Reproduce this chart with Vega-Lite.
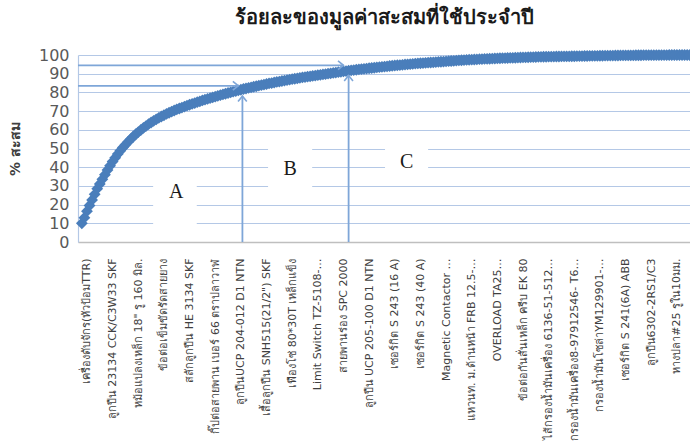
{
  "$schema": "https://vega.github.io/schema/vega-lite/v6.json",
  "width": 612,
  "height": 187,
  "autosize": {"type": "none"},
  "padding": {"left": 78, "top": 55, "right": 0, "bottom": 205},
  "background": "white",
  "title": {
    "text": "ร้อยละของมูลค่าสะสมที่ใช้ประจำปี",
    "anchor": "middle",
    "fontSize": 20,
    "fontWeight": "bold",
    "font": "DejaVu Sans",
    "color": "#1a1a1a",
    "offset": 19
  },
  "config": {
    "view": {"stroke": null},
    "font": "DejaVu Sans"
  },
  "datasets": {
    "curve": [
      {"x":1,"y":10},{"x":1.5,"y":13},{"x":2,"y":16.5},{"x":2.5,"y":19.5},{"x":3,"y":22.5},{"x":3.5,"y":25.5},{"x":4,"y":28.5},{"x":4.5,"y":31},{"x":5,"y":33.5},{"x":5.5,"y":36},
      {"x":6,"y":38.5},{"x":6.5,"y":40.8},{"x":7,"y":43},{"x":7.5,"y":45},{"x":8,"y":47},{"x":8.5,"y":48.8},{"x":9,"y":50.5},{"x":9.5,"y":52},{"x":10,"y":53.5},{"x":10.5,"y":55},
      {"x":11,"y":56.3},{"x":11.5,"y":57.6},{"x":12,"y":58.8},{"x":12.5,"y":59.9},{"x":13,"y":61},{"x":13.5,"y":62},{"x":14,"y":63},{"x":14.5,"y":63.9},{"x":15,"y":64.8},{"x":15.5,"y":65.6},
      {"x":16,"y":66.4},{"x":16.5,"y":67.1},{"x":17,"y":67.8},{"x":17.5,"y":68.5},{"x":18,"y":69.1},{"x":18.5,"y":69.7},{"x":19,"y":70.3},{"x":19.5,"y":70.9},{"x":20,"y":71.4},{"x":20.5,"y":71.9},
      {"x":21,"y":72.4},{"x":21.5,"y":72.9},{"x":22,"y":73.4},{"x":22.5,"y":73.9},{"x":23,"y":74.3},{"x":23.5,"y":74.8},{"x":24,"y":75.2},{"x":24.5,"y":75.7},{"x":25,"y":76.1},{"x":25.5,"y":76.5},
      {"x":26,"y":76.9},{"x":26.5,"y":77.3},{"x":27,"y":77.7},{"x":27.5,"y":78.1},{"x":28,"y":78.5},{"x":28.5,"y":78.9},{"x":29,"y":79.3},{"x":29.5,"y":79.7},{"x":30,"y":80},{"x":30.5,"y":80.4},
      {"x":31,"y":80.7},{"x":31.5,"y":81.1},{"x":32,"y":81.4},{"x":32.5,"y":81.8},{"x":33,"y":82.1},{"x":33.5,"y":82.4},{"x":34,"y":82.7},{"x":34.5,"y":83},{"x":35,"y":83.3},{"x":35.5,"y":83.6},
      {"x":36,"y":83.9},{"x":36.5,"y":84.2},{"x":37,"y":84.5},{"x":37.5,"y":84.8},{"x":38,"y":85},{"x":38.5,"y":85.3},{"x":39,"y":85.6},{"x":39.5,"y":85.8},{"x":40,"y":86.1},{"x":40.5,"y":86.3},
      {"x":41,"y":86.6},{"x":41.5,"y":86.8},{"x":42,"y":87.1},{"x":42.5,"y":87.3},{"x":43,"y":87.5},{"x":43.5,"y":87.8},{"x":44,"y":88},{"x":44.5,"y":88.2},{"x":45,"y":88.4},{"x":45.5,"y":88.6},
      {"x":46,"y":88.8},{"x":46.5,"y":89},{"x":47,"y":89.2},{"x":47.5,"y":89.4},{"x":48,"y":89.6},{"x":48.5,"y":89.8},{"x":49,"y":90},{"x":49.5,"y":90.2},{"x":50,"y":90.4},{"x":50.5,"y":90.6},
      {"x":51,"y":90.8},{"x":51.5,"y":91},{"x":52,"y":91.2},{"x":52.5,"y":91.4},{"x":53,"y":91.6},{"x":53.5,"y":91.8},{"x":54,"y":91.95},{"x":54.5,"y":92.1},{"x":55,"y":92.3},{"x":55.5,"y":92.45},
      {"x":56,"y":92.6},{"x":56.5,"y":92.75},{"x":57,"y":92.9},{"x":57.5,"y":93.05},{"x":58,"y":93.2},{"x":58.5,"y":93.35},{"x":59,"y":93.5},{"x":59.5,"y":93.65},{"x":60,"y":93.8},{"x":60.5,"y":93.95},
      {"x":61,"y":94.1},{"x":61.5,"y":94.25},{"x":62,"y":94.4},{"x":62.5,"y":94.5},{"x":63,"y":94.6},{"x":63.5,"y":94.75},{"x":64,"y":94.9},{"x":64.5,"y":95},{"x":65,"y":95.1},{"x":65.5,"y":95.25},
      {"x":66,"y":95.4},{"x":66.5,"y":95.5},{"x":67,"y":95.6},{"x":67.5,"y":95.7},{"x":68,"y":95.8},{"x":68.5,"y":95.9},{"x":69,"y":96},{"x":69.5,"y":96.1},{"x":70,"y":96.2},{"x":70.5,"y":96.3},
      {"x":71,"y":96.4},{"x":71.5,"y":96.5},{"x":72,"y":96.6},{"x":72.5,"y":96.7},{"x":73,"y":96.8},{"x":73.5,"y":96.9},{"x":74,"y":97},{"x":74.5,"y":97.1},{"x":75,"y":97.2},{"x":75.5,"y":97.3},
      {"x":76,"y":97.35},{"x":76.5,"y":97.45},{"x":77,"y":97.5},{"x":77.5,"y":97.6},{"x":78,"y":97.65},{"x":78.5,"y":97.75},{"x":79,"y":97.8},{"x":79.5,"y":97.9},{"x":80,"y":97.95},{"x":80.5,"y":98},
      {"x":81,"y":98.1},{"x":81.5,"y":98.15},{"x":82,"y":98.2},{"x":82.5,"y":98.25},{"x":83,"y":98.3},{"x":83.5,"y":98.35},{"x":84,"y":98.4},{"x":84.5,"y":98.45},{"x":85,"y":98.5},{"x":85.5,"y":98.55},
      {"x":86,"y":98.6},{"x":86.5,"y":98.65},{"x":87,"y":98.7},{"x":87.5,"y":98.75},{"x":88,"y":98.8},{"x":88.5,"y":98.85},{"x":89,"y":98.9},{"x":89.5,"y":98.95},{"x":90,"y":99},{"x":90.5,"y":99.02},
      {"x":91,"y":99.05},{"x":91.5,"y":99.08},{"x":92,"y":99.1},{"x":92.5,"y":99.13},{"x":93,"y":99.15},{"x":93.5,"y":99.18},{"x":94,"y":99.2},{"x":94.5,"y":99.23},{"x":95,"y":99.25},{"x":95.5,"y":99.28},
      {"x":96,"y":99.3},{"x":96.5,"y":99.33},{"x":97,"y":99.35},{"x":97.5,"y":99.38},{"x":98,"y":99.4},{"x":98.5,"y":99.43},{"x":99,"y":99.45},{"x":99.5,"y":99.48},{"x":100,"y":99.5},{"x":100.5,"y":99.52},
      {"x":101,"y":99.55},{"x":101.5,"y":99.57},{"x":102,"y":99.6},{"x":102.5,"y":99.62},{"x":103,"y":99.64},{"x":103.5,"y":99.66},{"x":104,"y":99.68},{"x":104.5,"y":99.7},{"x":105,"y":99.72},{"x":105.5,"y":99.74},
      {"x":106,"y":99.76},{"x":106.5,"y":99.78},{"x":107,"y":99.8},{"x":107.5,"y":99.81},{"x":108,"y":99.83},{"x":108.5,"y":99.84},{"x":109,"y":99.86},{"x":109.5,"y":99.87},{"x":110,"y":99.88},{"x":110.5,"y":99.89},
      {"x":111,"y":99.9},{"x":111.5,"y":99.91},{"x":112,"y":99.92},{"x":112.5,"y":99.93},{"x":113,"y":99.94},{"x":113.5,"y":99.95},{"x":114,"y":99.96},{"x":114.5,"y":99.97},{"x":115,"y":99.97},{"x":115.5,"y":99.98},
      {"x":116,"y":99.98},{"x":116.5,"y":99.99},{"x":117,"y":99.99},{"x":117.5,"y":99.99},{"x":118,"y":100},{"x":118.5,"y":100},{"x":119,"y":100},{"x":119.5,"y":100}
    ],
    "gaps": [
      {"x":14.9,"x2":23.4,"y":5,"y2":35},
      {"x":37.3,"x2":45.9,"y":25,"y2":55},
      {"x":60.1,"x2":68.5,"y":35,"y2":55}
    ],
    "hArrows": [
      {"x":0.25,"x2":31.5,"y":83.5},
      {"x":0.25,"x2":52,"y":94.5}
    ],
    "vArrows": [
      {"x":32.3,"y":0,"y2":78},
      {"x":53,"y":0,"y2":89}
    ],
    "zones": [
      {"x":19.4,"y":27,"t":"A"},
      {"x":41.6,"y":39.3,"t":"B"},
      {"x":64.3,"y":43,"t":"C"}
    ]
  },
  "encoding": {
    "x": {
      "field": "x",
      "type": "quantitative",
      "scale": {"domain": [0.25, 119.55], "nice": false, "zero": false},
      "axis": {
        "title": null,
        "grid": false,
        "ticks": false,
        "values": [2,7,12,17,22,27,32,37,42,47,52,57,62,67,72,77,82,87,92,97,102,107,112,117],
        "labelExpr": "['เครื่องดับจักร(หัวป้อมTTR)','ลูกปืน 23134 CCK/C3W33 SKF','หม้อแปลงเหล็ก 18\" รู 160 มิล.','ข้อต่อเข็มขัดรัดสายยาง','สลักลูกปืน HE 3134 SKF','กิ๊ปต่อสายพาน เบอร์ 66 ตราปลาวาฬ','ลูกปืนUCP 204-012 D1 NTN','เสื้อลูกปืน SNH515(21/2\") SKF','เฟืองโซ่ 80*30T เหล็กแข็ง','Limit Switch TZ-5108-…','สายพานร่อง SPC 2000','ลูกปืน UCP 205-100 D1 NTN','เซอร์กิต S 243 (16 A)','เซอร์กิต S 243 (40 A)','Magnetic Contactor …','แหวนท. ม.ด้านหน้า FRB 12.5-…','OVERLOAD TA25…','ข้อต่อกันสั่นเหล็ก ครีบ EK 80','ไส้กรองน้ำมันเครื่อง 6136-51-5121…','กรองน้ำมันเครื่อง8-97912546- T6…','กรองน้ำมันโซล่าYM129901-…','เซอร์กิต S 241(6A) ABB','ลูกปืน6302-2RS1/C3','หางปลา#25 รูใน10มม.'][round((datum.value-2)/5)]",
        "labelAngle": -90,
        "labelFontSize": 11,
        "labelColor": "#404040",
        "labelPadding": 16,
        "labelLimit": 188,
        "labelOverlap": false,
        "labelFlush": false,
        "labelBound": false,
        "domainColor": "#bfbfbf",
        "domainWidth": 1.5
      }
    },
    "y": {
      "field": "y",
      "type": "quantitative",
      "scale": {"domain": [0, 100], "nice": false},
      "axis": {
        "title": "% สะสม",
        "titleFontSize": 14,
        "titleFontWeight": "bold",
        "titleColor": "#404040",
        "titlePadding": 16,
        "values": [0,10,20,30,40,50,60,70,80,90,100],
        "labelFontSize": 16,
        "labelColor": "#595959",
        "labelPadding": 9,
        "ticks": false,
        "grid": true,
        "gridColor": "#b4c8e6",
        "gridWidth": 1.2,
        "domainColor": "#b4c8e6",
        "domainWidth": 1.2
      }
    }
  },
  "layer": [
    {
      "data": {"name": "gaps"},
      "mark": {"type": "rect", "color": "white"},
      "encoding": {"x2": {"field": "x2"}, "y2": {"field": "y2"}}
    },
    {
      "data": {"name": "curve"},
      "mark": {"type": "point", "shape": "diamond", "filled": true, "size": 140, "color": "#4a7ebb", "opacity": 1}
    },
    {
      "data": {"name": "hArrows"},
      "mark": {"type": "rule", "color": "#7ea6d8", "strokeWidth": 1.8},
      "encoding": {"x2": {"field": "x2"}}
    },
    {
      "data": {"name": "vArrows"},
      "mark": {"type": "rule", "color": "#7ea6d8", "strokeWidth": 1.8},
      "encoding": {"y2": {"field": "y2"}}
    },
    {
      "data": {"name": "hArrows"},
      "mark": {"type": "point", "shape": "M-1,-0.8L0,0L-1,0.8", "filled": false, "size": 120, "stroke": "#7ea6d8", "strokeWidth": 1.6, "opacity": 1, "angle": 0},
      "encoding": {"x": {"field": "x2", "type": "quantitative"}}
    },
    {
      "data": {"name": "vArrows"},
      "mark": {"type": "point", "shape": "M-1,-0.8L0,0L-1,0.8", "filled": false, "size": 120, "stroke": "#7ea6d8", "strokeWidth": 1.6, "opacity": 1, "angle": 270},
      "encoding": {"y": {"field": "y2", "type": "quantitative"}}
    },
    {
      "data": {"name": "zones"},
      "mark": {"type": "text", "font": "Liberation Serif", "fontSize": 20, "color": "#1a1a1a", "baseline": "middle", "align": "center"},
      "encoding": {"text": {"field": "t"}}
    }
  ]
}
